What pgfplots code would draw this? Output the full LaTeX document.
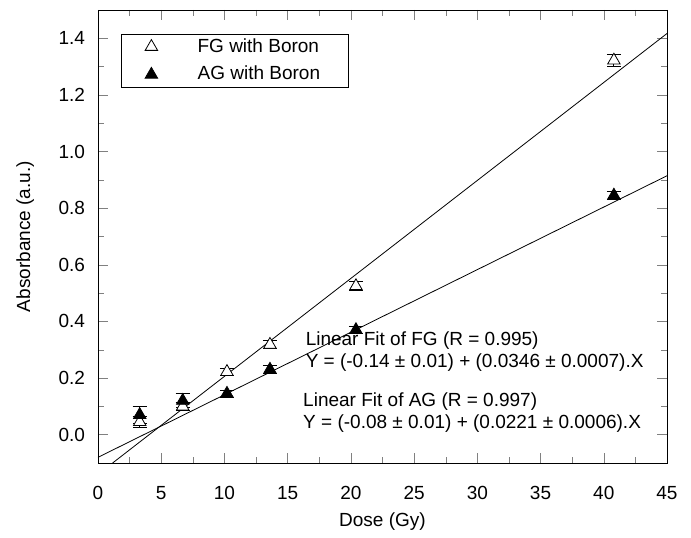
\documentclass[border=0pt]{standalone}
\usepackage{fontspec}
\setmainfont{Liberation Sans}
\usepackage{pgfplots}
\pgfplotsset{compat=1.18}

\begin{document}
\begin{tikzpicture}
\begin{axis}[
    scale only axis, width=284.5pt, height=226.5pt,
    xmin=0, xmax=45, ymin=-0.1, ymax=1.5,
    xtick distance=5, ytick={0,0.2,...,1.4},
    minor x tick num=1, minor y tick num=1,
    tick align=inside, tick pos=both,
    major tick length=5pt, minor tick length=3pt,
    yticklabel style={xshift=-3pt, /pgf/number format/fixed,
        /pgf/number format/fixed zerofill, /pgf/number format/precision=1},
    /pgf/number format/assume math mode=true,
    ticklabel style={font=\fontsize{9.5}{11}\selectfont},
    xticklabel style={yshift=-8pt},
    label style={font=\fontsize{9.5}{11}\selectfont},
    xlabel={Dose (Gy)}, ylabel={Absorbance (a.u.)},
    xlabel style={at={(axis description cs:0.5,-0.13)}, anchor=center},
    ylabel style={at={(axis description cs:-0.128,0.5)}, anchor=center},
    legend style={at={(0.04,0.947)}, anchor=north west, draw=black, thin,
        font=\fontsize{9.5}{11}\selectfont, row sep=1.5pt, inner xsep=12pt,
        inner ysep=0pt, /tikz/every odd column/.append style={column sep=18pt}},
    legend cell align=left,
]
\addplot[black, only marks, mark=triangle*, mark size=3.6pt,
    mark options={fill=white, thin},
    error bars/.cd, y dir=both, y explicit, error bar style={thin},
    error mark options={rotate=90, mark size=3.5pt}]
    coordinates {
    (3.3,0.045) +- (0,0.02)
    (6.7,0.100) +- (0,0.015)
    (10.2,0.222) +- (0,0.012)
    (13.6,0.318) +- (0,0.015)
    (20.4,0.525) +- (0,0.015)
    (40.8,1.322) +- (0,0.02)
    };
\addlegendentry{FG with Boron}
\addplot[black, only marks, mark=triangle*, mark size=3.6pt,
    mark options={fill=black},
    error bars/.cd, y dir=both, y explicit, error bar style={thin},
    error mark options={rotate=90, mark size=3.5pt}]
    coordinates {
    (3.3,0.070) +- (0,0.03)
    (6.7,0.120) +- (0,0.025)
    (10.2,0.145) +- (0,0.012)
    (13.6,0.230) +- (0,0.015)
    (20.4,0.370) +- (0,0.012)
    (40.8,0.845) +- (0,0.015)
    };
\addlegendentry{AG with Boron}
\addplot[black, thin, forget plot] coordinates {(1.156,-0.1) (45,1.417)};
\addplot[black, thin, forget plot] coordinates {(0,-0.08) (45,0.9145)};
\node[anchor=north west, align=left, inner sep=0pt,
      font=\fontsize{9.5}{11}\selectfont] at (axis cs:16.4,0.365)
    {Linear Fit of FG (R = 0.995)\\Y = (-0.14 ± 0.01) + (0.0346 ± 0.0007).X};
\node[anchor=north west, align=left, inner sep=0pt,
      font=\fontsize{9.5}{11}\selectfont] at (axis cs:16.2,0.150)
    {Linear Fit of AG (R = 0.997)\\Y = (-0.08 ± 0.01) + (0.0221 ± 0.0006).X};
\end{axis}
\path ([shift={(-49pt,-35pt)}]current axis.south west)
    rectangle ([shift={(12pt,5pt)}]current axis.north east);
\end{tikzpicture}
\end{document}
